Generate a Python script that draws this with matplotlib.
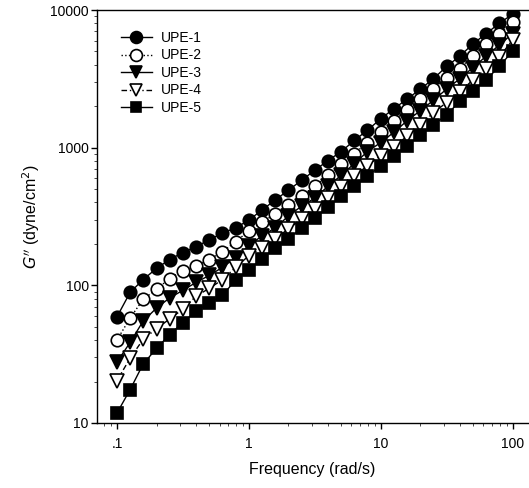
import numpy as np
import matplotlib
matplotlib.use("Agg")
import matplotlib.pyplot as plt
from matplotlib.ticker import FixedLocator, NullFormatter, LogLocator

plt.rcParams['font.family'] = ['Liberation Sans', 'DejaVu Sans']

# Frequency points (rad/s), 10 per decade from 0.1 to 100
freq = [0.1, 0.126, 0.158, 0.2, 0.251, 0.316, 0.398, 0.501, 0.631, 0.794,
        1.0, 1.26, 1.58, 2.0, 2.51, 3.16, 3.98, 5.01, 6.31, 7.94,
        10.0, 12.6, 15.8, 20.0, 25.1, 31.6, 39.8, 50.1, 63.1, 79.4, 100.0]

upe1 = [59, 89, 110, 133, 154, 173, 191, 214, 240, 261,
        298, 352, 416, 491, 579, 684, 806, 935, 1128, 1340,
        1618, 1923, 2244, 2663, 3162, 3890, 4617, 5677, 6734, 8000, 9330]
upe2 = [40, 58, 79, 94, 112, 128, 139, 154, 176, 207,
        249, 289, 329, 383, 444, 524, 629, 755, 906, 1090,
        1294, 1563, 1888, 2244, 2663, 3215, 3758, 4617, 5677, 6734, 8128]
upe3 = [27.7, 38.5, 55, 68.5, 81, 92, 105, 118, 135, 159,
        194, 229, 261, 319, 376, 430, 524, 629, 767, 935,
        1090, 1294, 1563, 1858, 2204, 2663, 3162, 3820, 4617, 5573, 6734]
upe4 = [20.3, 29.6, 40.5, 48.5, 57, 67, 83.5, 95, 110, 135,
        164, 188, 218, 257, 303, 358, 430, 515, 618, 742,
        875, 1016, 1208, 1459, 1794, 2128, 2529, 3110, 3758, 4540, 6081]
upe5 = [11.8, 17.5, 26.8, 34.9, 43.9, 53.5, 65, 74.4, 84.8, 109,
        130, 156, 188, 218, 261, 308, 370, 444, 524, 618,
        742, 875, 1035, 1230, 1459, 1734, 2168, 2573, 3110, 3890, 5025]

labels = ["UPE-1", "UPE-2", "UPE-3", "UPE-4", "UPE-5"]
series = [upe1, upe2, upe3, upe4, upe5]
markers = ['o', 'o', 'v', 'v', 's']
faces = ['black', 'white', 'black', 'white', 'black']
styles = ['-', ':', '-', (0, (4, 2, 1, 2)), '-']
msizes = [9, 9, 9.5, 9.5, 8]

xticks = [0.1, 1, 10, 100]
xticklabels = [".1", "1", "10", "100"]
yticks = [10, 100, 1000, 10000]
yticklabels = ["10", "100", "1000", "10000"]

fig = plt.figure(figsize=(5.29, 4.88), dpi=100)
ax = fig.add_axes([97/529, (488-423)/488, 431/529, (423-10)/488])

for y, lab, m, fc, ls, ms in zip(series, labels, markers, faces, styles, msizes):
    ax.plot(freq, y, linestyle=ls, color='black', lw=1.0, marker=m,
            markersize=ms, markerfacecolor=fc, markeredgecolor='black',
            markeredgewidth=1.2, label=lab)

ax.set_xscale('log')
ax.set_yscale('log')
ax.set_xlim(0.0706, 131)
ax.set_ylim(10, 10000)

ax.xaxis.set_major_locator(FixedLocator(xticks))
ax.set_xticklabels(xticklabels)
ax.yaxis.set_major_locator(FixedLocator(yticks))
ax.set_yticklabels(yticklabels)
ax.xaxis.set_minor_locator(LogLocator(base=10, subs=np.arange(2, 10)))
ax.yaxis.set_minor_locator(LogLocator(base=10, subs=np.arange(2, 10)))
ax.xaxis.set_minor_formatter(NullFormatter())
ax.yaxis.set_minor_formatter(NullFormatter())

ax.tick_params(which='major', direction='out', length=4, width=1, labelsize=10, pad=2)
ax.tick_params(which='minor', direction='out', length=2, width=0.5)
ax.tick_params(axis='x', which='major', pad=6)

ax.spines['right'].set_visible(False)
for s in ['left', 'bottom', 'top']:
    ax.spines[s].set_linewidth(1.0)

ax.set_xlabel("Frequency (rad/s)", fontsize=11.5, labelpad=8)
ax.set_ylabel(r"$G''$ (dyne/cm$^2$)", fontsize=11.5, labelpad=6)

leg = ax.legend(loc='upper left', bbox_to_anchor=(121/529, 1 - 31/488),
                bbox_transform=fig.transFigure, frameon=False, fontsize=10,
                handlelength=2.2, handletextpad=0.7, labelspacing=0.25,
                borderpad=0, borderaxespad=0, markerscale=0.95)

fig.savefig("out.png", dpi=100)
